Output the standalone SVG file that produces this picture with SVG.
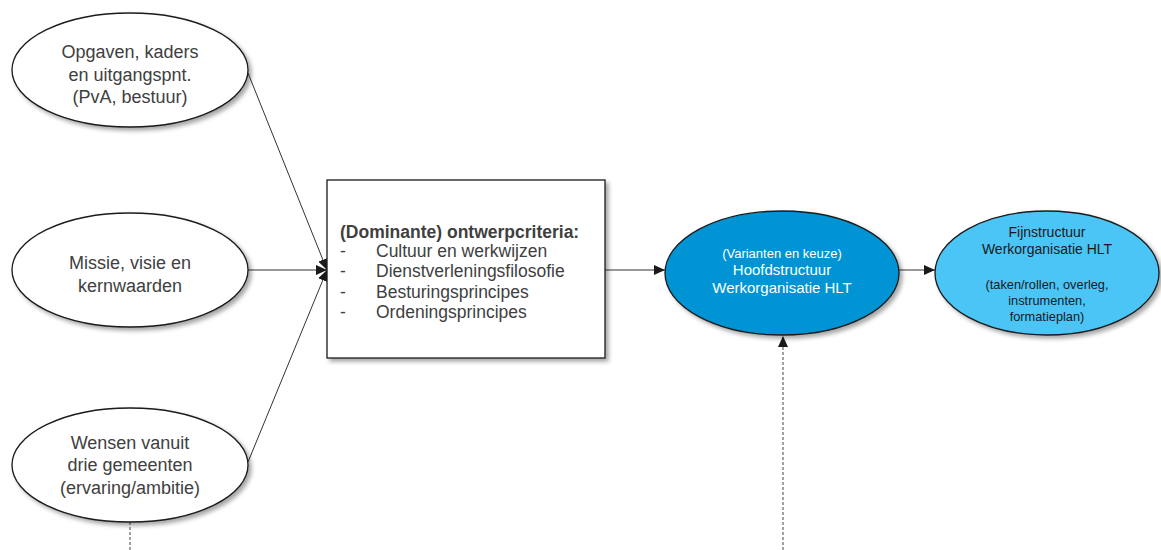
<svg xmlns="http://www.w3.org/2000/svg" width="1161" height="550" viewBox="0 0 1161 550">
<style>
.t{font-family:"Liberation Sans",Arial,sans-serif;fill:#404040;text-anchor:middle}
.e{font-size:18px}
.b{font-size:17.5px;text-anchor:start}
.node{stroke:#1a1a1a;stroke-width:1.3}
.conn{stroke:#333;stroke-width:1;fill:none}
.dot{stroke:#8c8c8c;stroke-width:1.6;stroke-dasharray:3 2;fill:none}
</style>
<defs>
<filter id="sh" x="-10%" y="-10%" width="125%" height="130%">
<feDropShadow dx="3" dy="3" stdDeviation="2" flood-color="#000" flood-opacity="0.35"/>
</filter>
<marker id="ah" markerUnits="userSpaceOnUse" markerWidth="11" markerHeight="10" refX="11" refY="5" orient="auto">
<path d="M0,0 L11,5 L0,10 z" fill="#1a1a1a"/>
</marker>
</defs>
<rect width="1161" height="550" fill="#fff"/>
<g id="connectors">
<line class="conn" x1="248" y1="73" x2="327" y2="270" marker-end="url(#ah)"/>
<line class="conn" x1="248" y1="270" x2="327" y2="270" marker-end="url(#ah)"/>
<line class="conn" x1="248" y1="462" x2="327" y2="270" marker-end="url(#ah)"/>
<line class="conn" x1="605" y1="270" x2="665" y2="270" marker-end="url(#ah)"/>
<line class="conn" x1="899" y1="270" x2="935" y2="270" marker-end="url(#ah)"/>
<line class="dot" x1="783" y1="550" x2="783" y2="336" marker-end="url(#ah)"/>
<line class="dot" x1="130" y1="522" x2="130" y2="550"/>
</g>
<g id="n1">
<ellipse class="node" cx="130" cy="70" rx="118" ry="57" fill="#fff" filter="url(#sh)"/>
<text class="t e" x="130" y="58">Opgaven, kaders</text>
<text class="t e" x="130" y="81">en uitgangspnt.</text>
<text class="t e" x="130" y="103">(PvA, bestuur)</text>
</g>
<g id="n2">
<ellipse class="node" cx="130" cy="270" rx="118" ry="57" fill="#fff" filter="url(#sh)"/>
<text class="t e" x="130" y="269">Missie, visie en</text>
<text class="t e" x="130" y="292">kernwaarden</text>
</g>
<g id="n3">
<ellipse class="node" cx="130" cy="465" rx="118" ry="57" fill="#fff" filter="url(#sh)"/>
<text class="t e" x="130" y="449">Wensen vanuit</text>
<text class="t e" x="130" y="471">drie gemeenten</text>
<text class="t e" x="130" y="494">(ervaring/ambitie)</text>
</g>
<g id="box">
<rect class="node" x="327" y="180" width="278" height="178" fill="#fff" filter="url(#sh)"/>
<text class="t b" x="340" y="238" font-weight="bold">(Dominante) ontwerpcriteria:</text>
<text class="t b" x="340" y="257">-</text><text class="t b" x="376" y="257">Cultuur en werkwijzen</text>
<text class="t b" x="340" y="277">-</text><text class="t b" x="376" y="277">Dienstverleningsfilosofie</text>
<text class="t b" x="340" y="298">-</text><text class="t b" x="376" y="298">Besturingsprincipes</text>
<text class="t b" x="340" y="318">-</text><text class="t b" x="376" y="318">Ordeningsprincipes</text>
</g>
<g id="hoofd">
<ellipse class="node" cx="782" cy="273" rx="117" ry="62" fill="#0094d4" filter="url(#sh)"/>
<text class="t" x="782" y="258" font-size="13" style="fill:#fff">(Varianten en keuze)</text>
<text class="t" x="782" y="275" font-size="15" style="fill:#fff">Hoofdstructuur</text>
<text class="t" x="782" y="293" font-size="15" style="fill:#fff">Werkorganisatie HLT</text>
</g>
<g id="fijn">
<ellipse class="node" cx="1047" cy="273" rx="112" ry="62" fill="#4cc4f6" filter="url(#sh)"/>
<text class="t" x="1047" y="237" font-size="14" style="fill:#1a1a1a">Fijnstructuur</text>
<text class="t" x="1047" y="254" font-size="14" style="fill:#1a1a1a">Werkorganisatie HLT</text>
<text class="t" x="1047" y="289" font-size="12.8" style="fill:#1a1a1a">(taken/rollen, overleg,</text>
<text class="t" x="1047" y="305" font-size="12.8" style="fill:#1a1a1a">instrumenten,</text>
<text class="t" x="1047" y="321" font-size="12.8" style="fill:#1a1a1a">formatieplan)</text>
</g>
</svg>
